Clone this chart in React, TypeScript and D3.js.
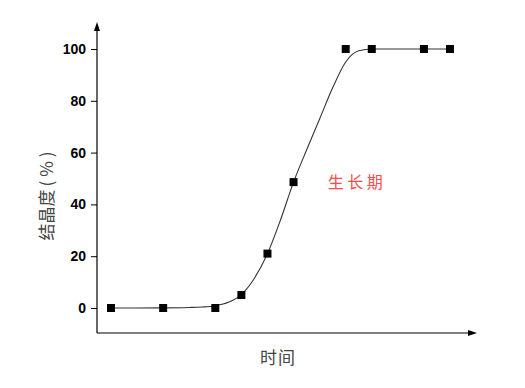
import React, { useEffect, useRef } from 'react';
import * as d3 from 'd3';

// measured points (time step, crystallinity %)
const times = [0, 2, 4, 5, 6, 7, 9, 10, 12, 13];
const crystallinity = [0, 0, 0, 5, 21, 48.6, 100, 100, 100, 100];

// fitted curve
const fitTimes = [0, 2, 3, 3.5, 4, 4.5, 5, 5.5, 6, 6.5, 7, 7.5, 8, 8.5, 9, 9.5, 10, 13];
const fitValues = [0, 0.05, 0.2, 0.4, 0.9, 2.2, 5.2, 11.5, 21, 34, 48.6, 61, 73, 85, 95, 99.3, 100, 100];

const yTicks = [0, 20, 40, 60, 80, 100];

const W = 525;
const H = 388;

const App = () => {
  const chartRef = useRef<SVGSVGElement>(null);

  useEffect(() => {
    const svg = d3.select(chartRef.current);
    svg.selectAll('*').remove();

    const x = d3.scaleLinear().domain([0, 13]).range([111, 450]);
    const y = d3.scaleLinear().domain([0, 100]).range([308, 49]);

    const axisX = 97;
    const axisY = 333;

    // axes lines with arrows
    svg.append('line')
      .attr('x1', axisX).attr('y1', axisY)
      .attr('x2', axisX).attr('y2', 28)
      .attr('stroke', '#000').attr('stroke-width', 1.2);
    svg.append('path')
      .attr('d', `M${axisX},22 L${axisX - 3},31 L${axisX + 3},31 Z`)
      .attr('fill', '#000');

    svg.append('line')
      .attr('x1', axisX).attr('y1', axisY)
      .attr('x2', 470).attr('y2', axisY)
      .attr('stroke', '#000').attr('stroke-width', 1.2);
    svg.append('path')
      .attr('d', `M477,${axisY} L468,${axisY - 3} L468,${axisY + 3} Z`)
      .attr('fill', '#000');

    // y ticks
    const yAxis = d3.axisLeft(y).tickValues(yTicks).tickSize(6).tickPadding(5).tickFormat(d3.format('d'));
    const gy = svg.append('g')
      .attr('transform', `translate(${axisX},0)`)
      .call(yAxis);
    gy.select('.domain').remove();
    gy.selectAll('line').attr('stroke', '#000').attr('stroke-width', 1);
    gy.selectAll('text')
      .attr('font-family', '"Liberation Sans", Arial, sans-serif')
      .attr('font-weight', 'bold')
      .attr('font-size', 14)
      .attr('fill', '#000');

    // fitted curve
    const line = d3.line<number>()
      .x((d, i) => x(fitTimes[i]))
      .y(d => y(d))
      .curve(d3.curveMonotoneX);

    svg.append('path')
      .datum(fitValues)
      .attr('fill', 'none')
      .attr('stroke', '#333')
      .attr('stroke-width', 1.1)
      .attr('d', line);

    // markers
    svg.append('g')
      .selectAll('rect')
      .data(crystallinity)
      .enter()
      .append('rect')
      .attr('x', (d, i) => x(times[i]) - 4)
      .attr('y', d => y(d) - 4)
      .attr('width', 8)
      .attr('height', 8)
      .attr('fill', '#000');

    // labels
    const yLabel = svg.append('text')
      .attr('transform', `translate(53,194) rotate(-90)`)
      .attr('text-anchor', 'middle')
      .attr('font-family', '"Noto Sans CJK SC", sans-serif')
      .attr('font-size', 17)
      .attr('fill', '#444');
    yLabel.append('tspan').text('结晶度');
    yLabel.append('tspan').attr('letter-spacing', 4).attr('dx', 3).text('(%)');

    svg.append('text')
      .attr('x', 278)
      .attr('y', 364)
      .attr('text-anchor', 'middle')
      .attr('font-family', '"Noto Sans CJK SC", sans-serif')
      .attr('font-size', 17)
      .attr('letter-spacing', 1)
      .attr('fill', '#444')
      .text('时间');

    svg.append('text')
      .attr('x', 357)
      .attr('y', 188)
      .attr('text-anchor', 'middle')
      .attr('font-family', '"Noto Sans CJK SC", sans-serif')
      .attr('font-size', 16)
      .attr('letter-spacing', 3.5)
      .attr('fill', '#ff4a4a')
      .text('生长期');
  }, []);

  return (
    <div style={{ position: 'absolute', left: 0, top: 0, background: '#fff' }}>
      <svg ref={chartRef} width={W} height={H}></svg>
    </div>
  );
};

export default App;
